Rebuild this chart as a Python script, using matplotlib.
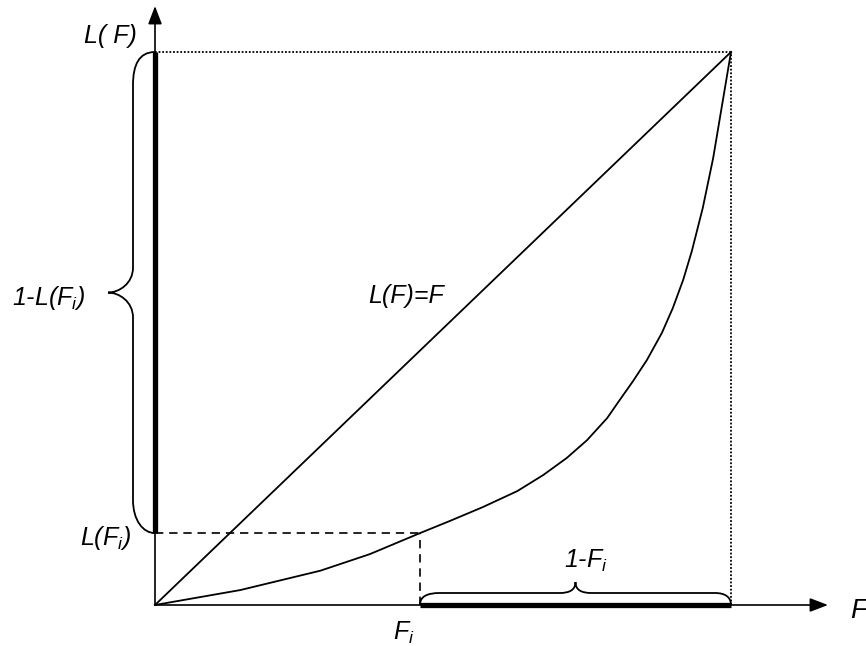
import matplotlib
matplotlib.use("Agg")
import matplotlib.pyplot as plt
from matplotlib.path import Path
from matplotlib.patches import PathPatch

plt.rcParams['font.family'] = ['Liberation Sans', 'DejaVu Sans']
plt.rcParams['mathtext.fontset'] = 'custom'
plt.rcParams['mathtext.it'] = 'Liberation Sans:italic'
plt.rcParams['mathtext.rm'] = 'Liberation Sans'

# ---- data (fractions of the unit square) ----
F_curve = [0.0, 0.148, 0.287, 0.373, 0.460, 0.512, 0.569, 0.629, 0.674, 0.715,
           0.750, 0.785, 0.807, 0.830, 0.854, 0.880, 0.899, 0.917, 0.932, 0.951,
           0.969, 0.984, 1.0]
L_curve = [0.0, 0.027, 0.062, 0.092, 0.130, 0.152, 0.177, 0.206, 0.235, 0.266,
           0.298, 0.338, 0.371, 0.405, 0.443, 0.492, 0.537, 0.588, 0.640, 0.718,
           0.808, 0.901, 1.0]
F_i = 0.460
L_Fi = 0.130
diag = [0.0, 1.0]

# ---- figure ----
W, H = 576.0, 553.0          # pixels per data unit
fig = plt.figure(figsize=(8.66, 6.46), dpi=100)
ax = fig.add_axes([0, 0, 1, 1])
ax.set_xlim(-155 / W, 711 / W)
ax.set_ylim(-41 / H, 605 / H)
ax.axis('off')

def dx(p):
    return p / W

def dy(p):
    return p / H

# axes with arrows
ax.annotate('', xy=(0, dy(599)), xytext=(0, 0),
            arrowprops=dict(arrowstyle='-|>,head_length=1.1,head_width=0.42',
                            lw=1.2, color='black', shrinkA=0, shrinkB=0))
ax.annotate('', xy=(dx(673), 0), xytext=(0, 0),
            arrowprops=dict(arrowstyle='-|>,head_length=1.1,head_width=0.42',
                            lw=1.2, color='black', shrinkA=0, shrinkB=0))

# dotted frame
ax.plot([0, 1], [1, 1], color='black', lw=1.3, ls=(0, (1, 1)))
ax.plot([1, 1], [0, 1], color='black', lw=1.3, ls=(0, (1, 1)))

# diagonal and Lorenz curve
ax.plot(diag, diag, color='black', lw=1.3)
ax.plot(F_curve, L_curve, color='black', lw=1.3, solid_joinstyle='round')

# dashed guides
ax.plot([0, F_i], [L_Fi, L_Fi], color='black', lw=1.2, ls=(0, (5, 3.5)))
ax.plot([F_i, F_i], [0, L_Fi], color='black', lw=1.2, ls=(0, (5, 3.5)))

# thick bars
ax.plot([0, 0], [L_Fi, 1], color='black', lw=3.8, solid_capstyle='butt')
ax.plot([F_i, 1], [0, 0], color='black', lw=3.8, solid_capstyle='butt')

# braces
def vbrace(x, y0, y1):
    ym = (y0 + y1) / 2
    xa = x - dx(22)
    xt = x - dx(47)
    verts = [(x, y1),
             (x - dx(16), y1), (xa, y1 - dy(13)), (xa, y1 - dy(33)),
             (xa, ym + dy(25)),
             (xa, ym + dy(9)), (x - dx(36), ym), (xt, ym),
             (x - dx(36), ym), (xa, ym - dy(9)), (xa, ym - dy(25)),
             (xa, y0 + dy(33)),
             (xa, y0 + dy(13)), (x - dx(12), y0), (x, y0)]
    codes = [Path.MOVETO] + [Path.CURVE4] * 3 + [Path.LINETO] + [Path.CURVE4] * 6 + \
            [Path.LINETO] + [Path.CURVE4] * 3
    ax.add_patch(PathPatch(Path(verts, codes), fill=False, lw=1.3, color='black'))

def hbrace(y, x0, x1):
    xm = (x0 + x1) / 2
    ya = y + dy(12)
    yt = y + dy(23)
    verts = [(x0, y),
             (x0, y + dy(9)), (x0 + dx(8), ya), (x0 + dx(20), ya),
             (xm - dx(16), ya),
             (xm - dx(6), ya), (xm, y + dy(15)), (xm, yt),
             (xm, y + dy(15)), (xm + dx(6), ya), (xm + dx(16), ya),
             (x1 - dx(16), ya),
             (x1 - dx(6), ya), (x1, y + dy(8)), (x1, y)]
    codes = [Path.MOVETO] + [Path.CURVE4] * 3 + [Path.LINETO] + [Path.CURVE4] * 6 + \
            [Path.LINETO] + [Path.CURVE4] * 3
    ax.add_patch(PathPatch(Path(verts, codes), fill=False, lw=1.3, color='black'))

vbrace(0, L_Fi, 1)
hbrace(0, F_i, 1)

# labels
fs = 18
tk = dict(fontsize=fs, style='italic', color='black')
ax.text(-dx(18), 1 + dy(9), 'L( F)', ha='right', va='baseline', **tk)
ax.text(-dx(70), (L_Fi + 1) / 2 - dy(12), '1-L(' + r'$F_i$' + ')', ha='right', va='baseline', **tk)
ax.text(-dx(24), L_Fi - dy(12), 'L(' + r'$F_i$' + ')', ha='right', va='baseline', **tk)
ax.text(dx(213), dy(302), 'L(F)=F', ha='left', va='baseline', **tk)
ax.text(F_i - dx(27), -dy(35), r'$F_i$', ha='left', va='baseline', **tk)
ax.text((F_i + 1) / 2 - dx(11), dy(37), '1-' + r'$F_i$', ha='left', va='baseline', **tk)
ax.text(dx(695), -dy(13), 'F', ha='left', va='baseline', fontsize=20, style='italic')

fig.savefig('out.png', dpi=100)
